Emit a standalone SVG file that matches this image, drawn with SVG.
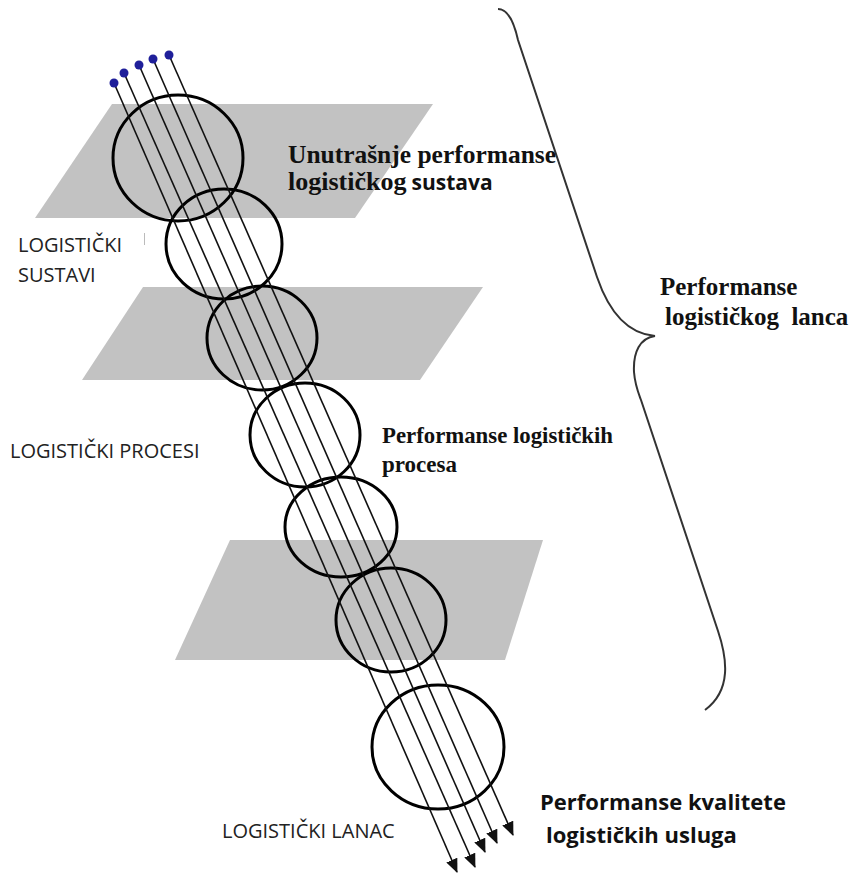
<svg xmlns="http://www.w3.org/2000/svg" width="855" height="877" viewBox="0 0 855 877">
<style>
.plane{fill:#c2c2c2;stroke:none}
.ring{fill:none;stroke:#000;stroke-width:3}
.ray{stroke:#111;stroke-width:1.6;fill:none;marker-end:url(#ah)}
.dot{fill:#1f1f9a}
.serif{font-family:"Liberation Serif","Times New Roman",serif;font-weight:bold;fill:#111}
.sansb{font-family:"Open Sans","Liberation Sans",sans-serif;font-weight:bold;fill:#111}
.sans{font-family:"Open Sans","Liberation Sans",sans-serif;fill:#222}
.brace{fill:none;stroke:#333;stroke-width:2}
</style>
<defs>
<marker id="ah" markerWidth="14" markerHeight="12" viewBox="0 0 14 12" refX="13" refY="6" orient="auto" markerUnits="userSpaceOnUse">
<path d="M0,0 L14,6 L0,12 Z" fill="#111"/>
</marker>
</defs>
<rect width="855" height="877" fill="#fff"/>
<g id="planes">
<polygon id="plane1" class="plane" points="112,104 433,104 355,218 35,218"/>
<polygon id="plane2" class="plane" points="143,287 483,287 420,380 82,380"/>
<polygon id="plane3" class="plane" points="230,540 543,540 505,660 175,660"/>
</g>
<g id="rings">
<ellipse id="ring1" class="ring" cx="178" cy="158" rx="65" ry="63"/>
<ellipse id="ring2" class="ring" cx="224" cy="244" rx="58" ry="55"/>
<ellipse id="ring3" class="ring" cx="262" cy="338" rx="55" ry="52"/>
<ellipse id="ring4" class="ring" cx="305" cy="435" rx="55" ry="52"/>
<ellipse id="ring5" class="ring" cx="341" cy="527" rx="56" ry="50"/>
<ellipse id="ring6" class="ring" cx="391" cy="620" rx="55" ry="52"/>
<ellipse id="ring7" class="ring" cx="438" cy="747" rx="66" ry="62"/>
</g>
<g id="connectors">
<line class="ray" x1="114" y1="83" x2="457" y2="872"/>
<line class="ray" x1="124" y1="73" x2="475" y2="867"/>
<line class="ray" x1="139" y1="65" x2="485" y2="852"/>
<line class="ray" x1="153" y1="59" x2="497" y2="843"/>
<line class="ray" x1="169" y1="55" x2="513" y2="835"/>
</g>
<g id="sources">
<circle class="dot" cx="114" cy="83" r="4.5"/>
<circle class="dot" cx="124" cy="73" r="4.5"/>
<circle class="dot" cx="139" cy="65" r="4.5"/>
<circle class="dot" cx="153" cy="59" r="4.5"/>
<circle class="dot" cx="169" cy="55" r="4.5"/>
</g>
<g id="brace">
<path class="brace" d="M498,9 C508,9 514,22 518,40 L597,277 C610,315 630,334 655,336 C640,338 633,352 634,372 C635,385 638,392 641,400 L718,631 C727,658 732,690 705,710"/>
</g>
<g id="label-unutrasnje">
<text class="serif" x="288" y="163" font-size="26" textLength="268" lengthAdjust="spacingAndGlyphs">Unutrašnje performanse</text>
<text x="288" y="190"><tspan class="serif" font-size="26">logističkog</tspan><tspan class="sansb" font-size="21" dx="5">sustava</tspan></text>
</g>
<g id="label-sustavi">
<text class="sans" x="18" y="252" font-size="20">LOGISTIČKI</text>
<text class="sans" x="18" y="282" font-size="20">SUSTAVI</text>
<line x1="144.5" y1="233" x2="144.5" y2="245" stroke="#bbb" stroke-width="1"/>
</g>
<g id="label-procesi">
<text class="sans" x="10" y="458" font-size="20">LOGISTIČKI PROCESI</text>
</g>
<g id="label-perf-procesa">
<text class="serif" x="382" y="443" font-size="23" textLength="231" lengthAdjust="spacingAndGlyphs">Performanse logističkih</text>
<text class="serif" x="382" y="472" font-size="23">procesa</text>
</g>
<g id="label-lanca">
<text class="serif" x="660" y="295" font-size="25">Performanse</text>
<text class="serif" x="665" y="325" font-size="25" xml:space="preserve">logističkog  lanca</text>
</g>
<g id="label-lanac">
<text class="sans" x="222" y="838" font-size="20">LOGISTIČKI LANAC</text>
</g>
<g id="label-kvalitete">
<text class="sansb" x="540" y="810" font-size="22">Performanse kvalitete</text>
<text class="sansb" x="546" y="843" font-size="22">logističkih usluga</text>
</g>
</svg>
